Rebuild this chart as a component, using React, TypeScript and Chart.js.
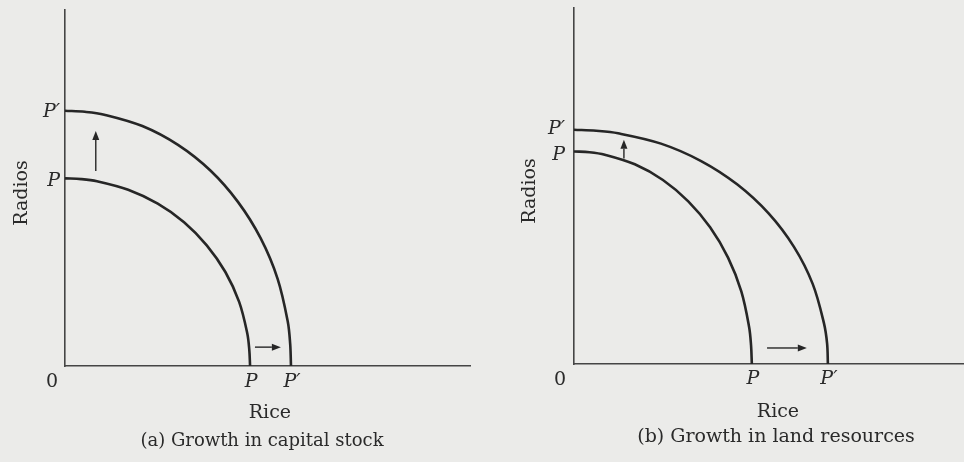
import React, { useEffect, useRef } from "react";
import { Chart, registerables } from "chart.js";
Chart.register(...registerables);

// ---- texts ----
const yAxisTitle = "Radios";
const xAxisTitle = "Rice";
const originLabel = "0";
const frontierLabels = ["P", "P\u2032"];
const captions = ["(a) Growth in capital stock", "(b) Growth in land resources"];

// ---- panel (a): growth in capital stock ----
const aInnerRice = [0, 4.0, 7.9, 15.6, 22.9, 29.4, 35.0, 39.6, 43.0, 45.0, 45.5, 45.7];
const aInnerRadios = [52.7, 52.5, 51.9, 49.5, 45.6, 40.4, 33.9, 26.4, 18.0, 9.2, 4.6, 0];
const aOuterRice = [0, 4.9, 9.7, 19.1, 27.9, 35.9, 42.7, 48.3, 52.5, 55.0, 55.6, 55.8];
const aOuterRadios = [71.7, 71.4, 70.6, 67.4, 62.1, 54.9, 46.1, 35.9, 24.5, 12.5, 6.2, 0];
const aArrowUp = [7.6, 54.8, 7.6, 66.0];
const aArrowRight = [46.9, 5.3, 53.3, 5.3];
const aRiceTitleAt = 50.6;

// ---- panel (b): growth in land resources ----
const bInnerRice = [0, 4.0, 7.9, 15.6, 22.8, 29.3, 34.9, 39.5, 42.9, 44.9, 45.4, 45.6];
const bInnerRadios = [59.7, 59.5, 58.8, 56.1, 51.7, 45.7, 38.4, 29.9, 20.4, 10.4, 5.2, 0];
const bOuterRice = [0, 5.7, 11.3, 22.3, 32.6, 41.9, 49.9, 56.4, 61.2, 64.1, 64.9, 65.1];
const bOuterRadios = [65.8, 65.5, 64.8, 61.9, 57.0, 50.4, 42.3, 32.9, 22.5, 11.4, 5.7, 0];
const bArrowUp = [12.8, 57.7, 12.8, 63.0];
const bArrowRight = [49.5, 4.5, 59.7, 4.5];
const bRiceTitleAt = 52.3;

const BG = "#ebebe9";
const INK = "#262626";
const AXIS = "#454545";
const TEXT = "#2a2a2a";
const FONT = "'DejaVu Serif', serif";

type Layout = {
  left: number; width: number;
  padding: { left: number; right: number; top: number; bottom: number };
  yLabelDx: number; yLabelDy: number[];
  xLabelDy: number; originDx: number; originDy: number;
  riceDy: number; captionDx: number; captionDy: number; captionSize: number;
  radiosDx: number; radiosY: number;
};

type PanelProps = {
  id: string;
  inner: [number[], number[]];
  outer: [number[], number[]];
  arrows: number[][];
  riceAt: number;
  caption: string;
  layout: Layout;
};

function toPts(xs: number[], ys: number[]) {
  return xs.map((x, i) => ({ x, y: ys[i] }));
}

function Panel({ id, inner, outer, arrows, riceAt, caption, layout }: PanelProps) {
  const ref = useRef<HTMLCanvasElement | null>(null);
  useEffect(() => {
    if (!ref.current) return;
    const innerPts = toPts(inner[0], inner[1]);
    const outerPts = toPts(outer[0], outer[1]);
    const textPlugin = {
      id: "text" + id,
      afterDraw(chart: any) {
        const { ctx, chartArea } = chart;
        const xs = chart.scales.x;
        const ys = chart.scales.y;
        ctx.save();
        // arrows
        ctx.strokeStyle = INK;
        ctx.fillStyle = INK;
        ctx.lineWidth = 1.4;
        arrows.forEach(([x0, y0, x1, y1]) => {
          const px0 = xs.getPixelForValue(x0);
          const py0 = ys.getPixelForValue(y0);
          const px1 = xs.getPixelForValue(x1);
          const py1 = ys.getPixelForValue(y1);
          const ang = Math.atan2(py1 - py0, px1 - px0);
          const hl = 9, hw = 3.5;
          const bx = px1 - hl * Math.cos(ang);
          const by = py1 - hl * Math.sin(ang);
          ctx.beginPath();
          ctx.moveTo(px0, py0);
          ctx.lineTo(bx, by);
          ctx.stroke();
          ctx.beginPath();
          ctx.moveTo(px1, py1);
          ctx.lineTo(bx + hw * Math.sin(ang), by - hw * Math.cos(ang));
          ctx.lineTo(bx - hw * Math.sin(ang), by + hw * Math.cos(ang));
          ctx.closePath();
          ctx.fill();
        });
        ctx.fillStyle = TEXT;
        ctx.textBaseline = "alphabetic";
        // y-axis intercept labels
        ctx.font = "italic 19px " + FONT;
        ctx.textAlign = "right";
        const yInts = [inner[1][0], outer[1][0]];
        yInts.forEach((v, i) => {
          ctx.fillText(frontierLabels[i], chartArea.left + layout.yLabelDx, ys.getPixelForValue(v) + layout.yLabelDy[i]);
        });
        // x-axis intercept labels
        ctx.textAlign = "center";
        const xInts = [inner[0][inner[0].length - 1], outer[0][outer[0].length - 1]];
        xInts.forEach((v, i) => {
          ctx.fillText(frontierLabels[i], xs.getPixelForValue(v) + 1, chartArea.bottom + layout.xLabelDy);
        });
        // origin
        ctx.font = "19px " + FONT;
        ctx.fillText(originLabel, chartArea.left + layout.originDx, chartArea.bottom + layout.originDy);
        // x title
        ctx.fillText(xAxisTitle, xs.getPixelForValue(riceAt), chartArea.bottom + layout.riceDy);
        // caption
        ctx.font = layout.captionSize + "px " + FONT;
        ctx.fillText(caption, chartArea.left + layout.captionDx, chartArea.bottom + layout.captionDy);
        // y title
        ctx.font = "19px " + FONT;
        ctx.save();
        ctx.translate(chartArea.left + layout.radiosDx, layout.radiosY);
        ctx.rotate(-Math.PI / 2);
        ctx.fillText(yAxisTitle, 0, 0);
        ctx.restore();
        ctx.restore();
      },
    };
    const lineDs = (data: any) => ({
      data,
      showLine: true,
      borderColor: INK,
      borderWidth: 2.6,
      pointRadius: 0,
      tension: 0.35,
      fill: false,
    });
    const axis = (max: number) => ({
      type: "linear" as const,
      min: 0,
      max,
      grid: { display: false, drawTicks: false, tickLength: 0 },
      border: { display: true, color: AXIS, width: 1.6 },
      ticks: { display: false },
      title: { display: false },
    });
    const chart = new Chart(ref.current, {
      type: "scatter",
      data: { datasets: [lineDs(innerPts), lineDs(outerPts)] },
      options: {
        animation: false,
        responsive: false,
        devicePixelRatio: 1,
        events: [],
        layout: { padding: layout.padding },
        plugins: { legend: { display: false }, tooltip: { enabled: false }, title: { display: false } },
        scales: { x: axis(100), y: axis(100) },
      },
      plugins: [textPlugin],
    });
    return () => chart.destroy();
  }, []);
  return (
    <canvas
      ref={ref}
      width={layout.width}
      height={462}
      style={{ position: "absolute", left: layout.left, top: 0, width: layout.width, height: 462 }}
    />
  );
}

const layoutA: Layout = {
  left: 0, width: 482,
  padding: { left: 65, right: 12, top: 10, bottom: 96 },
  yLabelDx: -5, yLabelDy: [8, 6],
  xLabelDy: 21, originDx: -13, originDy: 21,
  riceDy: 52, captionDx: 197, captionDy: 80, captionSize: 18,
  radiosDx: -38, radiosY: 193,
};

const layoutB: Layout = {
  left: 482, width: 482,
  padding: { left: 92, right: 0, top: 8, bottom: 98 },
  yLabelDx: -9, yLabelDy: [9, 4],
  xLabelDy: 20, originDx: -14, originDy: 21,
  riceDy: 53, captionDx: 202, captionDy: 78, captionSize: 19,
  radiosDx: -39, radiosY: 191,
};

export default function App() {
  useEffect(() => {
    document.body.style.margin = "0";
    document.body.style.background = BG;
  }, []);
  return (
    <div style={{ position: "absolute", left: 0, top: 0, width: 964, height: 462, background: BG, overflow: "hidden" }}>
      <Panel
        id="a"
        inner={[aInnerRice, aInnerRadios]}
        outer={[aOuterRice, aOuterRadios]}
        arrows={[aArrowUp, aArrowRight]}
        riceAt={aRiceTitleAt}
        caption={captions[0]}
        layout={layoutA}
      />
      <Panel
        id="b"
        inner={[bInnerRice, bInnerRadios]}
        outer={[bOuterRice, bOuterRadios]}
        arrows={[bArrowUp, bArrowRight]}
        riceAt={bRiceTitleAt}
        caption={captions[1]}
        layout={layoutB}
      />
    </div>
  );
}
